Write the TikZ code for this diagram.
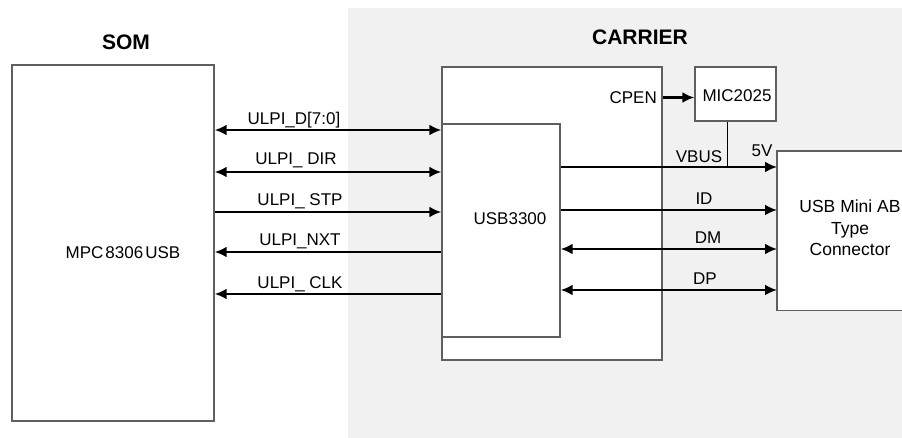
\documentclass[tikz,border=0pt]{standalone}
\usepackage{fontspec}
\setmainfont{Liberation Sans}
\usetikzlibrary{arrows.meta}
\definecolor{bggray}{HTML}{F1F1F1}
\definecolor{boxgray}{HTML}{5F5F5F}
\begin{document}
\begin{tikzpicture}[x=1pt,y=-1pt,
  box/.style={draw=boxgray, line width=1.4pt, fill=white, inner sep=0pt},
  edge/.style={draw=boxgray, line width=1.4pt},
  lbl/.style={font=\fontsize{17}{20}\selectfont, inner sep=0pt},
  ttl/.style={font=\fontsize{21}{24}\selectfont\bfseries, inner sep=0pt},
  sig/.style={line width=2.6pt, -{Latex[length=12pt,width=11pt]}},
  bisig/.style={line width=2.6pt, {Latex[length=12pt,width=11pt]}-{Latex[length=12pt,width=11pt]}},
]
\useasboundingbox (0,0) rectangle (902,438);
\fill[bggray] (348,8) rectangle (902,438);

% blocks
\node[box, minimum width=202pt, minimum height=356pt] (som) at (113,243) {};
\node[box, minimum width=220pt, minimum height=293pt] (usbout) at (552,213.5) {};
\node[box, minimum width=118pt, minimum height=213pt] (usbin) at (501,230.5) {};
\node[box, minimum width=81pt, minimum height=54pt] (mic) at (735.5,94) {};
\node[fill=white, inner sep=0pt, minimum width=125pt, minimum height=159pt, anchor=north west] (conn) at (777,151) {};
\draw[edge] (conn.north east) -- (conn.north west) -- (conn.south west) -- (conn.south east);

% titles and block texts
\node[ttl] (somt) at (126,42) {SOM};
\node[ttl] (cart) at (640,37.5) {CARRIER};
\node[lbl] (mpc) at (123,252.5) {{\spaceskip=0.12em MPC 8306 USB}};
\node[lbl] (u3300) at (510,218.5) {USB3300};
\node[lbl] (mict) at (737,96) {MIC2025};
\node[lbl, anchor=east] (cpen) at (657,97.5) {CPEN};
\node[inner sep=0pt, align=center, anchor=north, font=\fontsize{17.5}{21.5}\selectfont] (connt) at (850,200) {USB Mini AB\\Type\\Connector};

% signal rows
\coordinate (yD) at (0,130);
\coordinate (yR) at (0,172);
\coordinate (yS) at (0,212);
\coordinate (yN) at (0,252);
\coordinate (yC) at (0,294);
\coordinate (yV) at (0,167);
\coordinate (yI) at (0,210);
\coordinate (yM) at (0,249);
\coordinate (yP) at (0,290);
\coordinate (micdrop) at (727.5,0);

% left labels
\node[lbl, anchor=base] (lD) at (294,124.5) {ULPI\_D[7:0]};
\node[lbl, anchor=base] (lR) at (296,165) {ULPI\_ DIR};
\node[lbl, anchor=base] (lS) at (300,206) {ULPI\_ STP};
\node[lbl, anchor=base] (lN) at (300,246) {ULPI\_NXT};
\node[lbl, anchor=base] (lC) at (300,288) {ULPI\_ CLK};
% right labels
\node[lbl, anchor=base] (lV) at (699,163) {VBUS};
\node[lbl, anchor=base] (l5) at (762,157) {5V};
\node[lbl, anchor=base] (lI) at (704,205) {ID};
\node[lbl, anchor=base] (lM) at (708,244) {DM};
\node[lbl, anchor=base] (lP) at (705,285) {DP};

% connectors
\draw[bisig] (som.east |- yD) -- (usbin.west |- yD);
\draw[bisig] (som.east |- yR) -- (usbin.west |- yR);
\draw[sig] (som.east |- yS) -- (usbin.west |- yS);
\draw[sig] (usbin.west |- yN) -- (som.east |- yN);
\draw[sig] (usbin.west |- yC) -- (som.east |- yC);

\draw[sig] (usbout.east |- cpen) -- (mic.west |- cpen);
\draw[line width=1.8pt] (mic.south -| micdrop) -- (micdrop |- yV);
\draw[sig] (usbin.east |- yV) -- (conn.west |- yV);
\draw[sig] (usbin.east |- yI) -- (conn.west |- yI);
\draw[bisig] (usbin.east |- yM) -- (conn.west |- yM);
\draw[bisig] (usbin.east |- yP) -- (conn.west |- yP);
\end{tikzpicture}
\end{document}
